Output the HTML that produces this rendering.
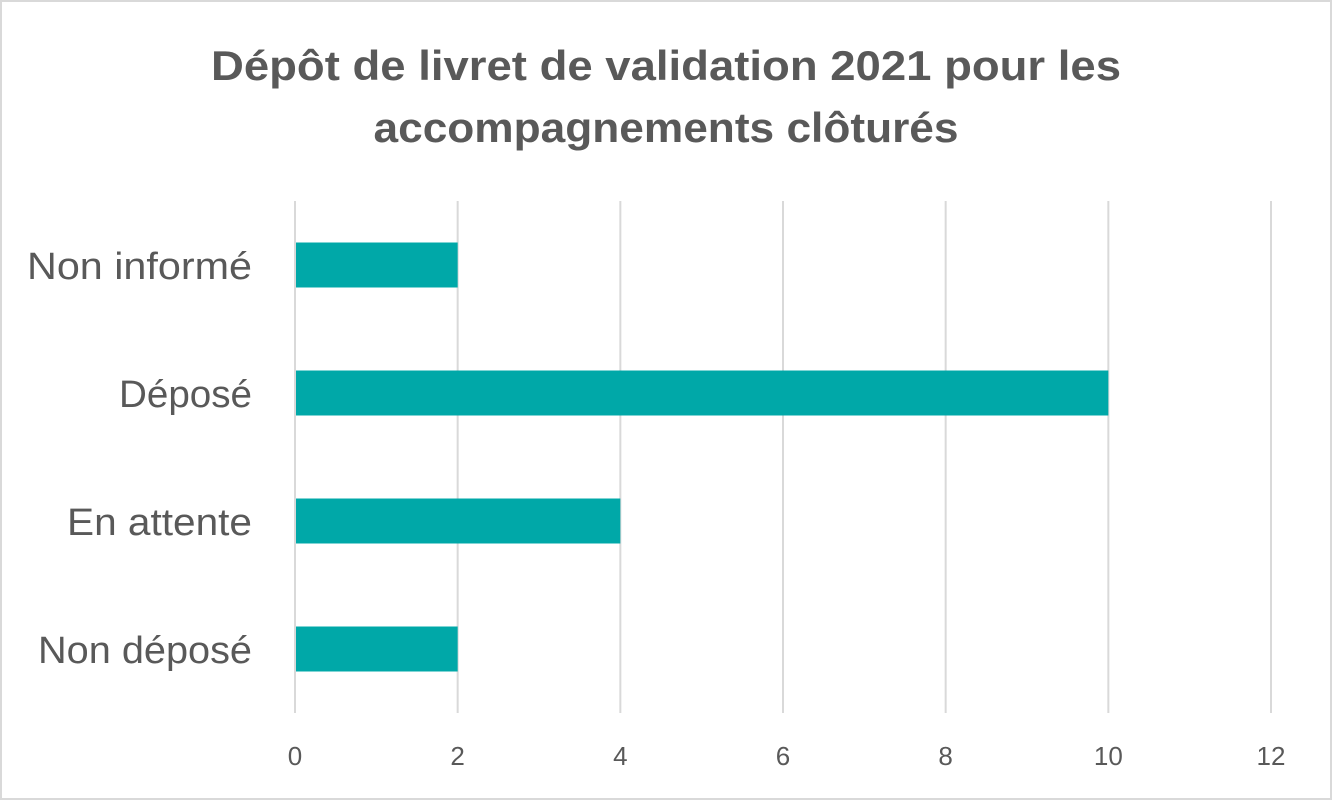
<!DOCTYPE html>
<html><head><meta charset="utf-8"><style>
html,body{margin:0;padding:0;background:#fff}
svg{display:block}
text{font-family:"Liberation Sans",sans-serif;fill:#595959}
</style></head><body>
<svg id="chart" width="1332" height="800" viewBox="0 0 1332 800">
<rect x="1" y="1" width="1330" height="798" fill="#fff" stroke="#d9d9d9" stroke-width="2"/>
<text x="666" y="80" text-anchor="middle" font-size="42" font-weight="bold" textLength="910" lengthAdjust="spacingAndGlyphs">Dépôt de livret de validation 2021 pour les</text>
<text x="666" y="142" text-anchor="middle" font-size="42" font-weight="bold" textLength="585" lengthAdjust="spacingAndGlyphs">accompagnements clôturés</text>
<g id="grid"></g><g id="bars"></g><g id="labels"></g><g id="ticks"></g>
</svg>
<script>
const categories=["Non informé","Déposé","En attente","Non déposé"];
const values=[2,10,4,2];
const tickValues=[0,2,4,6,8,10,12];
const labelWidths=[225,133,185,214];
const NS="http://www.w3.org/2000/svg";
const plotX0=295,plotX1=1271,plotTop=201,plotBottom=713,maxV=12;
const xs=v=>plotX0+(plotX1-plotX0)*v/maxV;
const band=(plotBottom-plotTop)/categories.length;
const yc=i=>plotTop+band*(i+0.5);
const gridG=document.getElementById('grid'),barsG=document.getElementById('bars'),labelsG=document.getElementById('labels'),ticksG=document.getElementById('ticks');
tickValues.forEach(t=>{
  const l=document.createElementNS(NS,'line');
  
  
  l.setAttribute('x1',xs(t));l.setAttribute('x2',xs(t));l.setAttribute('y1',plotTop);l.setAttribute('y2',plotBottom);
  l.setAttribute('stroke','#d9d9d9');l.setAttribute('stroke-width','2');
  gridG.appendChild(l);
  const tx=document.createElementNS(NS,'text');
  
  
  tx.setAttribute('x',xs(t));tx.setAttribute('y',765);tx.setAttribute('text-anchor','middle');tx.setAttribute('font-size','26');
  tx.textContent=t;ticksG.appendChild(tx);
});
categories.forEach((c,i)=>{
  const r=document.createElementNS(NS,'rect');
  
  
  r.setAttribute('x',xs(0)+1);r.setAttribute('y',yc(i)-22.5);
  r.setAttribute('width',Math.max(0,xs(values[i])-xs(0)-1));r.setAttribute('height',45);
  r.setAttribute('fill','#00a8a8');
  barsG.appendChild(r);
  const tx=document.createElementNS(NS,'text');
  
  
  tx.setAttribute('x',252);tx.setAttribute('y',yc(i)+14);tx.setAttribute('text-anchor','end');tx.setAttribute('font-size','38');
  tx.setAttribute('textLength',labelWidths[i]);tx.setAttribute('lengthAdjust','spacingAndGlyphs');
  tx.textContent=c;labelsG.appendChild(tx);
});
</script>
</body></html>
